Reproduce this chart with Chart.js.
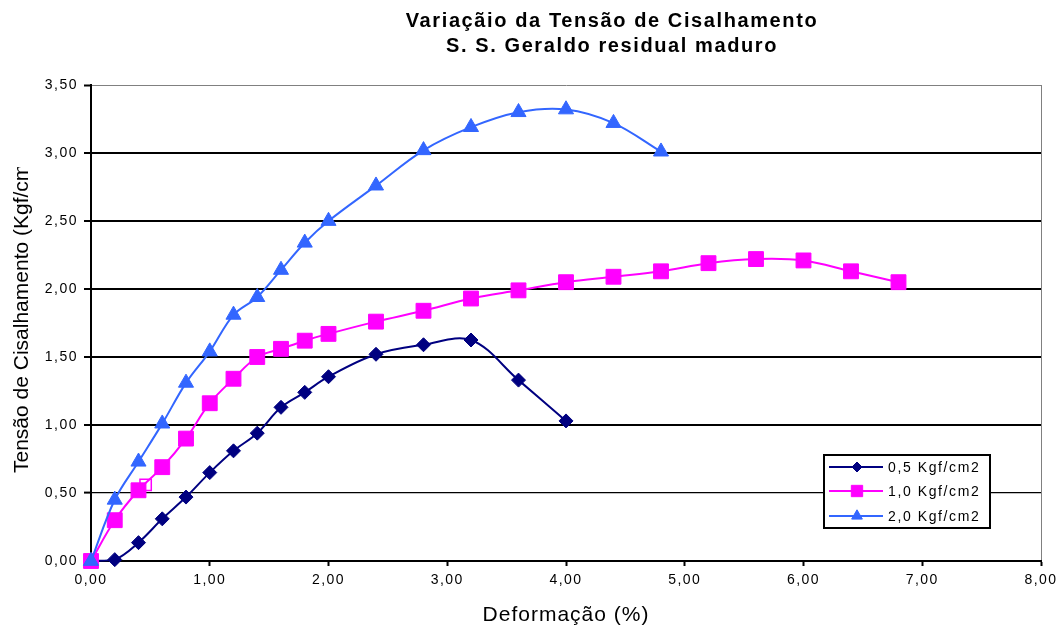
<!DOCTYPE html>
<html><head><meta charset="utf-8">
<script src="https://cdn.jsdelivr.net/npm/chart.js@4/dist/chart.umd.min.js"></script>
<style>html,body{margin:0;padding:0;background:#fff;overflow:hidden}#wrap{width:1062px;height:627px;position:relative}</style>
</head><body><div id="wrap"><canvas id="c" width="1062" height="627"></canvas></div>
<script>
const titleLines = ['Variaçãio da Tensão de Cisalhamento', 'S. S. Geraldo residual maduro'];
const xAxisTitle = 'Deformação (%)';
const yAxisTitle = 'Tensão de Cisalhamento (Kgf/cm2)';
const seriesNames = ['0,5 Kgf/cm2', '1,0 Kgf/cm2', '2,0 Kgf/cm2'];

const strain05 = [0, 0.2, 0.4, 0.6, 0.8, 1.0, 1.2, 1.4, 1.6, 1.8, 2.0, 2.4, 2.8, 3.2, 3.6, 4.0];
const tau05    = [0, 0.01, 0.135, 0.31, 0.47, 0.65, 0.81, 0.94, 1.13, 1.24, 1.355, 1.52, 1.59, 1.625, 1.33, 1.03];

const strain10 = [0, 0.2, 0.4, 0.6, 0.8, 1.0, 1.2, 1.4, 1.6, 1.8, 2.0, 2.4, 2.8, 3.2, 3.6, 4.0, 4.4, 4.8, 5.2, 5.6, 6.0, 6.4, 6.8];
const tau10    = [0, 0.30, 0.52, 0.69, 0.90, 1.16, 1.34, 1.50, 1.56, 1.62, 1.67, 1.76, 1.84, 1.93, 1.99, 2.05, 2.09, 2.13, 2.19, 2.22, 2.21, 2.13, 2.05];

const strain20 = [0, 0.2, 0.4, 0.6, 0.8, 1.0, 1.2, 1.4, 1.6, 1.8, 2.0, 2.4, 2.8, 3.2, 3.6, 4.0, 4.4, 4.8];
const tau20    = [0, 0.45, 0.73, 1.01, 1.31, 1.54, 1.81, 1.94, 2.14, 2.34, 2.50, 2.76, 3.02, 3.19, 3.30, 3.32, 3.22, 3.01];

const strayX = [0.46];
const strayY = [0.56];

const xTicks = [0, 1, 2, 3, 4, 5, 6, 7, 8];
const yTicks = [0, 0.5, 1, 1.5, 2, 2.5, 3, 3.5];

const FONT = '"Liberation Sans", Arial, sans-serif';
const colors = ['#000080', '#FF00FF', '#3366FF'];
const styles = ['rectRot', 'rect', 'triangle'];
const radii = [7, 10.5, 8.7];
const legendRadii = [5, 8, 6.2];

const pts = (xs, ys) => xs.map((x, i) => ({x: x, y: ys[i]}));
const fmt = v => Number(v).toFixed(2).replace('.', ',');

function mkSet(i, xs, ys, order) {
  return {
    label: seriesNames[i], data: pts(xs, ys),
    borderColor: colors[i], backgroundColor: colors[i],
    pointBackgroundColor: colors[i], pointBorderColor: colors[i],
    pointStyle: styles[i], pointRadius: radii[i], pointBorderWidth: 1,
    borderWidth: 2, tension: 0.35, order: order, clip: false
  };
}

const overlay = {
  id: 'overlay',
  beforeDraw(chart) { chart.ctx.letterSpacing = '1.5px'; },
  afterDraw(chart) {
    const ctx = chart.ctx;
    ctx.save();
    ctx.fillStyle = '#000';
    // title
    ctx.letterSpacing = '1.6px';
    ctx.font = 'bold 20px ' + FONT;
    ctx.textAlign = 'center';
    ctx.textBaseline = 'alphabetic';
    ctx.fillText(titleLines[0], 612, 27);
    ctx.fillText(titleLines[1], 612, 52);
    // x title
    ctx.letterSpacing = '1px';
    ctx.font = '21px ' + FONT;
    ctx.fillText(xAxisTitle, (chart.chartArea.left + chart.chartArea.right) / 2, 621);
    // y title (clipped like the original)
    ctx.save();
    ctx.letterSpacing = '0px';
    ctx.beginPath(); ctx.rect(0, 167, 60, 420); ctx.clip();
    ctx.translate(28, 473); ctx.rotate(-Math.PI / 2);
    ctx.textAlign = 'left';
    ctx.fillText(yAxisTitle, 0, 0);
    ctx.restore();
    // legend
    const bx = 824, by = 455, bw = 166, bh = 73;
    ctx.fillStyle = '#fff'; ctx.fillRect(bx, by, bw, bh);
    ctx.strokeStyle = '#000'; ctx.lineWidth = 2; ctx.strokeRect(bx, by, bw, bh);
    const rows = [467, 491, 516];
    ctx.letterSpacing = '1.6px';
    ctx.font = '14px ' + FONT;
    ctx.textAlign = 'left'; ctx.textBaseline = 'middle';
    rows.forEach((y, i) => {
      ctx.strokeStyle = colors[i]; ctx.lineWidth = 2;
      ctx.beginPath(); ctx.moveTo(829, y); ctx.lineTo(883, y); ctx.stroke();
      ctx.fillStyle = colors[i]; ctx.lineWidth = 1;
      Chart.helpers.drawPoint(ctx, {pointStyle: styles[i], radius: legendRadii[i], borderWidth: 1}, 857, y);
      ctx.fillStyle = '#000';
      ctx.fillText(seriesNames[i], 888, y + 1);
    });
    ctx.restore();
  }
};

new Chart(document.getElementById('c'), {
  type: 'line',
  data: {
    datasets: [
      mkSet(0, strain05, tau05, 3),
      mkSet(1, strain10, tau10, 2),
      mkSet(2, strain20, tau20, 1),
      {
        label: 'stray', data: pts(strayX, strayY), showLine: false,
        pointStyle: 'rect', pointRadius: 8, pointBorderWidth: 1.5,
        pointBackgroundColor: 'rgba(0,0,0,0)', pointBorderColor: '#FF00FF',
        borderColor: '#FF00FF', order: 0
      }
    ]
  },
  options: {
    responsive: false, animation: false, devicePixelRatio: 1,
    layout: {padding: {top: 85, right: 21, bottom: 0, left: 0}},
    plugins: {legend: {display: false}, tooltip: {enabled: false}, title: {display: false}},
    scales: {
      x: {
        type: 'linear', min: 0, max: 8,
        afterBuildTicks: s => { s.ticks = xTicks.map(v => ({value: v})); },
        afterFit: s => { s.height = 66; },
        ticks: {callback: v => fmt(v), color: '#000', font: {family: FONT, size: 14}, padding: 6, maxRotation: 0, autoSkip: false},
        grid: {
          color: c => (c.tick && c.tick.value === 8) ? '#808080' : 'rgba(0,0,0,0)',
          lineWidth: 1, tickColor: '#000', tickLength: 5, tickWidth: 2
        },
        border: {color: '#000', width: 2}
      },
      y: {
        type: 'linear', min: 0, max: 3.5,
        afterBuildTicks: s => { s.ticks = yTicks.map(v => ({value: v})); },
        afterFit: s => { s.width = 91; },
        ticks: {callback: v => fmt(v), color: '#000', font: {family: FONT, size: 14}, padding: 6, autoSkip: false},
        grid: {
          color: c => (c.tick && c.tick.value === 3.5) ? '#808080' : '#000',
          lineWidth: c => (c.tick && c.tick.value === 3.5) ? 1 : (c.tick && c.tick.value === 0.5 ? 1.2 : 2),
          tickColor: '#000', tickLength: 7, tickWidth: 2
        },
        border: {color: '#000', width: 2}
      }
    }
  },
  plugins: [overlay]
});
</script></body></html>
